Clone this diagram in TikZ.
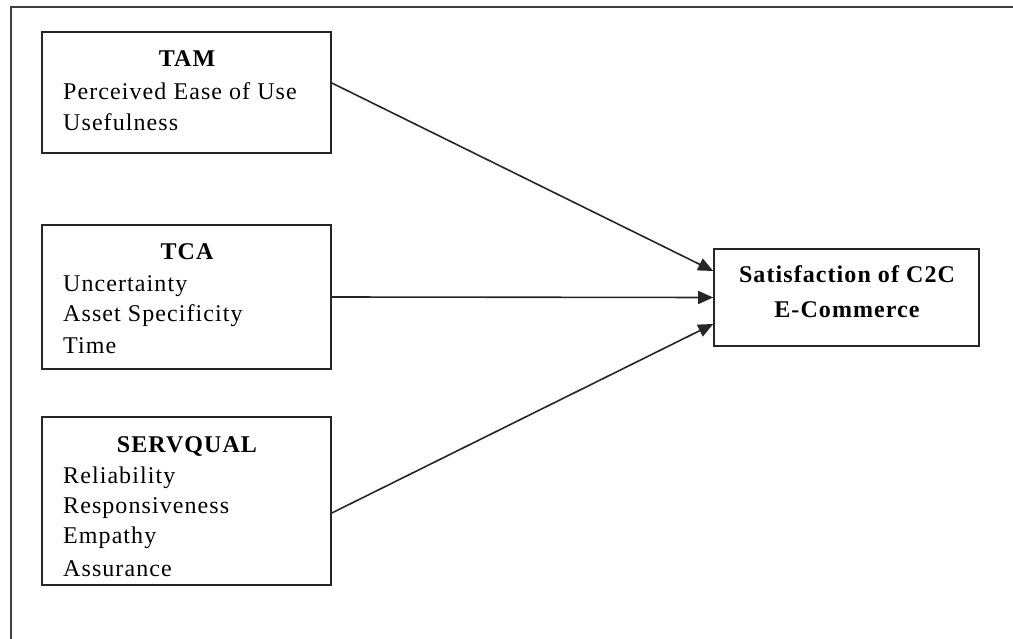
\documentclass[tikz,border=0pt]{standalone}
\usepackage{fontspec}
\setmainfont{Liberation Serif}[LetterSpace=4.5]
\usetikzlibrary{arrows.meta}
\begin{document}
\begin{tikzpicture}[x=1pt,y=-1pt,
  box/.style={draw=black!85, line width=1.6pt, rectangle, inner sep=0pt},
  ttl/.style={font=\fontsize{24}{28}\selectfont\bfseries, anchor=base, inner sep=0pt},
  itm/.style={font=\fontsize{24}{28}\selectfont, anchor=base west, inner sep=0pt},
  arr/.style={line width=1.6pt, draw=black!85, -{Triangle[length=15pt,width=13pt]}}]
\useasboundingbox (0,0) rectangle (1013,639);
\draw[line width=2.2pt, black!75] (1013,7) -- (11,7) -- (11,639);
% boxes
\node[box, minimum width=289pt, minimum height=121pt] (tam) at (186.5,92.5) {};
\node[box, minimum width=289pt, minimum height=144pt] (tca) at (186.5,297) {};
\node[box, minimum width=289pt, minimum height=168pt] (srv) at (186.5,501) {};
\node[box, minimum width=265pt, minimum height=97pt] (sat) at (846.5,297.5) {};
% TAM text
\node[ttl] (tamt) at (187,67) {TAM};
\node[itm] (tam1) at (63,100) {Perceived Ease of Use};
\node[itm] (tam2) at (63,131) {Usefulness};
% TCA text
\node[ttl] (tcat) at (187,260) {TCA};
\node[itm] (tca1) at (63,292) {Uncertainty};
\node[itm] (tca2) at (63,322) {Asset Specificity};
\node[itm] (tca3) at (63,354) {Time};
% SERVQUAL text
\node[ttl] (srvt) at (187,452) {SERVQUAL};
\node[itm] (srv1) at (63,483) {Reliability};
\node[itm] (srv2) at (63,513) {Responsiveness};
\node[itm] (srv3) at (63,543) {Empathy};
\node[itm] (srv4) at (63,576) {Assurance};
% Satisfaction text
\node[ttl] (sat1) at (847,283) {Satisfaction of C2C};
\node[ttl] (sat2) at (847,318) {E-Commerce};
% arrows
\draw[arr] ([yshift=9.5pt]tam.east) -- ([yshift=26.5pt]sat.west);
\draw[arr] (tca.east) -- (sat.west);
\draw[arr] ([yshift=-12pt]srv.east) -- ([yshift=-26.5pt]sat.west);
\end{tikzpicture}
\end{document}
